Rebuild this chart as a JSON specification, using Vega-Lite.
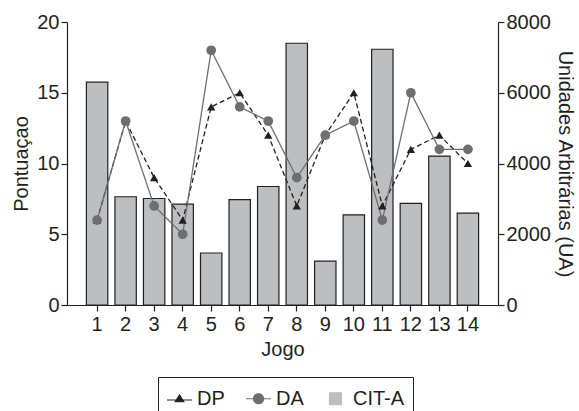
{
  "$schema": "https://vega.github.io/schema/vega-lite/v6.json",
  "autosize": "none",
  "width": 431,
  "height": 283,
  "padding": {"left": 67, "top": 22, "right": 81, "bottom": 106},
  "background": "white",
  "config": {
    "view": {"stroke": null},
    "font": "Liberation Sans",
    "axis": {
      "labelFont": "Liberation Sans",
      "titleFont": "Liberation Sans",
      "labelFontSize": 20,
      "titleFontSize": 20,
      "labelColor": "#231f20",
      "titleColor": "#231f20",
      "titleFontWeight": "normal",
      "domainColor": "#231f20",
      "tickColor": "#231f20",
      "domainWidth": 1.2,
      "tickWidth": 1.2,
      "tickSize": 6,
      "grid": false
    },
    "legend": {
      "labelFont": "Liberation Sans",
      "labelFontSize": 20,
      "labelColor": "#231f20"
    }
  },
  "datasets": {
    "bars": [
      {"jogo": 1, "cita": 6300},
      {"jogo": 2, "cita": 3060},
      {"jogo": 3, "cita": 3010},
      {"jogo": 4, "cita": 2850},
      {"jogo": 5, "cita": 1470},
      {"jogo": 6, "cita": 2980},
      {"jogo": 7, "cita": 3350},
      {"jogo": 8, "cita": 7400},
      {"jogo": 9, "cita": 1240},
      {"jogo": 10, "cita": 2550},
      {"jogo": 11, "cita": 7230},
      {"jogo": 12, "cita": 2870},
      {"jogo": 13, "cita": 4210},
      {"jogo": 14, "cita": 2600}
    ],
    "series": [
      {"jogo": 1, "serie": "DP", "valor": 6},
      {"jogo": 2, "serie": "DP", "valor": 13},
      {"jogo": 3, "serie": "DP", "valor": 9},
      {"jogo": 4, "serie": "DP", "valor": 6},
      {"jogo": 5, "serie": "DP", "valor": 14},
      {"jogo": 6, "serie": "DP", "valor": 15},
      {"jogo": 7, "serie": "DP", "valor": 12},
      {"jogo": 8, "serie": "DP", "valor": 7},
      {"jogo": 9, "serie": "DP", "valor": 12},
      {"jogo": 10, "serie": "DP", "valor": 15},
      {"jogo": 11, "serie": "DP", "valor": 7},
      {"jogo": 12, "serie": "DP", "valor": 11},
      {"jogo": 13, "serie": "DP", "valor": 12},
      {"jogo": 14, "serie": "DP", "valor": 10},
      {"jogo": 1, "serie": "DA", "valor": 6},
      {"jogo": 2, "serie": "DA", "valor": 13},
      {"jogo": 3, "serie": "DA", "valor": 7},
      {"jogo": 4, "serie": "DA", "valor": 5},
      {"jogo": 5, "serie": "DA", "valor": 18},
      {"jogo": 6, "serie": "DA", "valor": 14},
      {"jogo": 7, "serie": "DA", "valor": 13},
      {"jogo": 8, "serie": "DA", "valor": 9},
      {"jogo": 9, "serie": "DA", "valor": 12},
      {"jogo": 10, "serie": "DA", "valor": 13},
      {"jogo": 11, "serie": "DA", "valor": 6},
      {"jogo": 12, "serie": "DA", "valor": 15},
      {"jogo": 13, "serie": "DA", "valor": 11},
      {"jogo": 14, "serie": "DA", "valor": 11}
    ]
  },
  "encoding": {
    "x": {
      "field": "jogo",
      "type": "ordinal",
      "scale": {"paddingInner": 0.25, "paddingOuter": 0.68},
      "axis": {"title": "Jogo", "labelAngle": 0, "labelPadding": 3, "titlePadding": 5}
    }
  },
  "layer": [
    {
      "data": {"name": "bars"},
      "mark": {"type": "bar", "fill": "#bcbec0", "stroke": "#231f20", "strokeWidth": 1.2},
      "encoding": {
        "y": {
          "field": "cita",
          "type": "quantitative",
          "scale": {"domain": [0, 8000], "nice": false},
          "axis": {"orient": "right", "title": "Unidades Arbitrárias (UA)", "format": "d", "values": [0, 2000, 4000, 6000, 8000], "labelPadding": 2, "titlePadding": 4}
        }
      }
    },
    {
      "data": {"name": "series"},
      "layer": [
        {
          "mark": {"type": "line", "strokeWidth": 1.3},
          "encoding": {
            "y": {
              "field": "valor",
              "type": "quantitative",
              "scale": {"domain": [0, 20], "nice": false},
              "axis": {"orient": "left", "title": "Pontuaçao", "values": [0, 5, 10, 15, 20], "labelPadding": 2, "titlePadding": 5}
            },
            "color": {
              "field": "serie",
              "type": "nominal",
              "scale": {"domain": ["DP", "DA", "CIT-A"], "range": ["#231f20", "#6d6e71", "#bcbec0"]},
              "legend": {
                "title": null,
                "orient": "none",
                "legendX": 91,
                "legendY": 355,
                "direction": "horizontal",
                "strokeColor": "#231f20",
                "padding": 8,
                "symbolSize": 625,
                "symbolStrokeWidth": 1,
                "labelOffset": 4,
                "columnPadding": 18,
                "encode": {
                  "symbols": {
                    "update": {
                      "shape": {"signal": "datum.value === 'DP' ? 'M-1,0.1H1M0,-0.3L0.34,0.24L-0.34,0.24Z' : (datum.value === 'DA' ? 'M-1,0H-0.4A0.4,0.4 0 1 1 0.4,0A0.4,0.4 0 1 1 -0.4,0M0.4,0H1' : 'M-0.48,-0.48H0.48V0.48H-0.48Z')"},
                      "fill": {"signal": "datum.value === 'DP' ? '#231f20' : (datum.value === 'DA' ? '#6d6e71' : '#bcbec0')"},
                      "stroke": {"signal": "datum.value === 'DA' ? '#6d6e71' : '#231f20'"},
                      "strokeWidth": {"value": 1.2},
                      "strokeDash": {"value": [1, 0]},
                      "opacity": {"value": 1}
                    }
                  }
                }
              }
            },
            "strokeDash": {
              "field": "serie",
              "type": "nominal",
              "scale": {"domain": ["DP", "DA"], "range": [[5, 3], [1, 0]]},
              "legend": null
            }
          }
        },
        {
          "mark": {"type": "point", "filled": true, "opacity": 1},
          "encoding": {
            "y": {"field": "valor", "type": "quantitative"},
            "color": {"field": "serie", "type": "nominal"},
            "shape": {
              "field": "serie",
              "type": "nominal",
              "scale": {"domain": ["DP", "DA"], "range": ["triangle-up", "circle"]},
              "legend": null
            },
            "size": {
              "field": "serie",
              "type": "nominal",
              "scale": {"domain": ["DP", "DA"], "range": [70, 95]},
              "legend": null
            }
          }
        }
      ]
    }
  ],
  "resolve": {"scale": {"y": "independent"}}
}
